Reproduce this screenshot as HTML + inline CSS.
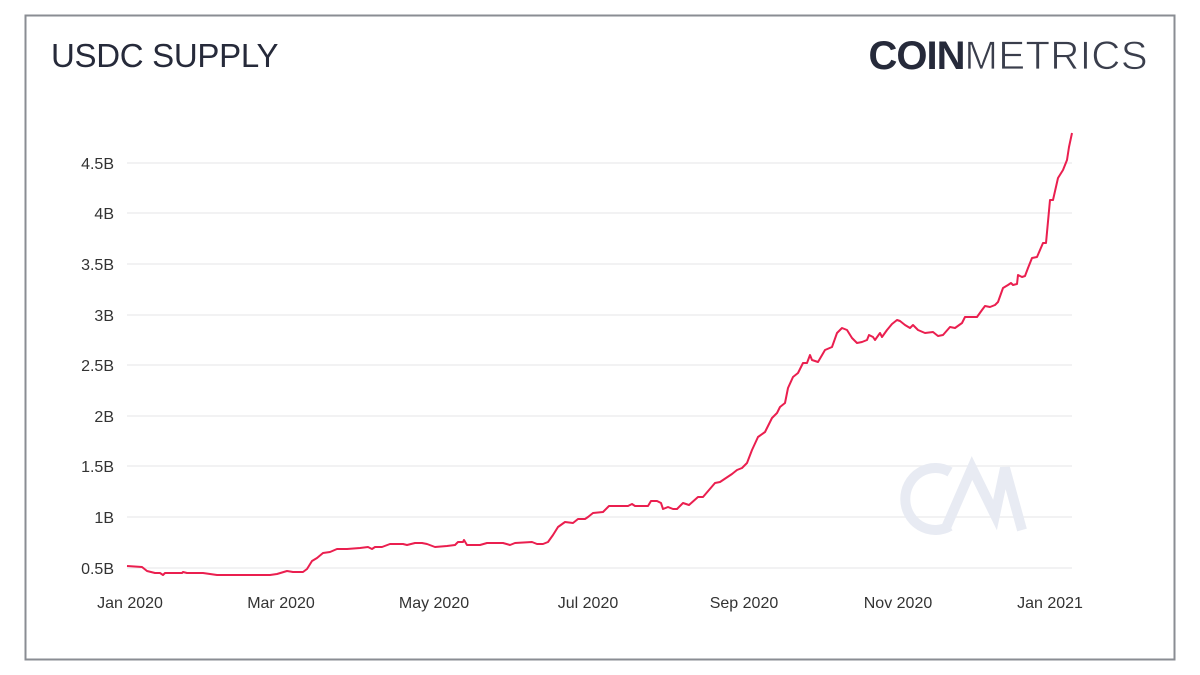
<!DOCTYPE html>
<html><head><meta charset="utf-8"><style>
body{margin:0;width:1200px;height:675px;background:#fff;overflow:hidden;font-family:"Liberation Sans",sans-serif}
</style></head><body>
<svg width="1200" height="675" xmlns="http://www.w3.org/2000/svg" style="position:absolute;left:0;top:0">
<rect x="25.5" y="15.5" width="1149" height="644" fill="#fff" stroke="#8a8d93" stroke-width="2"/>
<text x="51" y="67" font-size="33" fill="#262a3a" font-family="Liberation Sans, sans-serif" letter-spacing="-0.3">USDC SUPPLY</text>
<text x="1148" y="69" text-anchor="end" font-size="40" fill="#262a3a" font-family="Liberation Sans, sans-serif"><tspan font-weight="bold" letter-spacing="-1">COIN</tspan><tspan fill="#3a3e4c" letter-spacing="0.5" stroke="#fff" stroke-width="0.8">METRICS</tspan></text>
<g stroke="#eeeeef" stroke-width="1.5">
<line x1="127" x2="1072" y1="163" y2="163"/><line x1="127" x2="1072" y1="213" y2="213"/>
<line x1="127" x2="1072" y1="264" y2="264"/><line x1="127" x2="1072" y1="315" y2="315"/>
<line x1="127" x2="1072" y1="365" y2="365"/><line x1="127" x2="1072" y1="416" y2="416"/>
<line x1="127" x2="1072" y1="466" y2="466"/><line x1="127" x2="1072" y1="517" y2="517"/>
<line x1="127" x2="1072" y1="568" y2="568"/>
</g>
<g font-size="16" fill="#333" text-anchor="end">
<text x="114" y="169">4.5B</text><text x="114" y="219">4B</text><text x="114" y="270">3.5B</text>
<text x="114" y="321">3B</text><text x="114" y="371">2.5B</text><text x="114" y="422">2B</text>
<text x="114" y="472">1.5B</text><text x="114" y="523">1B</text><text x="114" y="574">0.5B</text>
</g>
<g font-size="16" fill="#333" text-anchor="middle">
<text x="130" y="608">Jan 2020</text><text x="281" y="608">Mar 2020</text><text x="434" y="608">May 2020</text>
<text x="588" y="608">Jul 2020</text><text x="744" y="608">Sep 2020</text><text x="898" y="608">Nov 2020</text>
<text x="1050" y="608">Jan 2021</text>
</g>
<g fill="none" stroke="#e8ebf3" stroke-width="10">
<path d="M950 472 A30 31 0 1 0 950 526"/>
<path d="M945 530 L972 468 L995 515 L1005 468 L1022 530"/>
</g>
<polyline fill="none" stroke="#ea1f4f" stroke-width="2" stroke-linejoin="round" points="127,566 142,567 147,571 155,573 160,573 163,575 165,573 182,573 183,572 187,573 203,573 217,575 237,575 253,575 270,575 277,574 287,571 293,572 303,572 307,569 312,561 317,558 323,553 330,552 337,549 347,549 360,548 368,547 372,549 375,547 382,547 390,544 403,544 407,545 415,543 422,543 427,544 435,547 447,546 455,545 458,542 463,542 464,540 467,545 480,545 487,543 503,543 510,545 515,543 532,542 537,544 543,544 548,542 553,535 558,527 565,522 573,523 578,519 585,519 588,517 593,513 603,512 609,506 620,506 628,506 632,504 635,506 648,506 651,501 657,501 661,503 663,509 668,507 673,509 677,509 683,503 689,505 698,497 703,497 715,483 720,482 732,474 737,470 742,468 747,463 752,450 758,437 765,432 772,418 777,413 780,407 785,403 788,388 793,377 798,373 803,363 807,363 810,355 812,360 818,362 825,350 832,347 837,333 842,328 847,330 852,338 857,343 862,342 867,340 869,335 873,337 875,340 880,333 882,337 887,330 892,324 897,320 900,321 905,325 910,328 913,325 918,330 925,333 933,332 938,336 943,335 950,327 955,328 962,323 965,317 970,317 973,317 977,317 982,310 985,306 990,307 995,305 998,302 1003,288 1008,285 1011,283 1013,285 1017,284 1018,275 1022,277 1025,276 1028,268 1032,258 1037,257 1043,243 1046,243 1050,200 1053,200 1058,178 1063,170 1067,160 1069,147 1072,133"/>
</svg>
</body></html>
